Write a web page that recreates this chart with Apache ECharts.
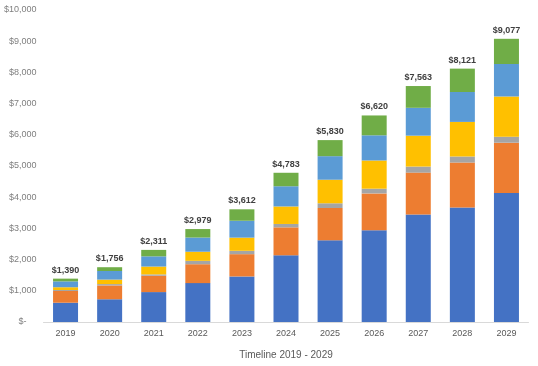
<!DOCTYPE html>
<html>
<head>
<meta charset="utf-8">
<script src="https://cdn.jsdelivr.net/npm/echarts@6/dist/echarts.min.js"></script>
<style>html,body{margin:0;padding:0;background:#fff;}#c{width:538px;height:366px;}</style>
</head>
<body>
<div id="c"></div>
<script>
const categories = ['2019','2020','2021','2022','2023','2024','2025','2026','2027','2028','2029'];
const seriesBlue   = [618, 729, 959, 1246, 1460, 2138, 2619, 2938, 3443, 3669, 4135];
const seriesOrange = [375, 442, 523, 606, 714, 896, 1035, 1184, 1345, 1442, 1611];
const seriesGray   = [33, 44, 44, 108, 108, 108, 151, 151, 194, 194, 193];
const seriesYellow = [88, 144, 251, 292, 422, 561, 755, 904, 990, 1108, 1289];
const seriesLtBlue = [188, 276, 327, 455, 541, 648, 755, 807, 893, 958, 1042];
const seriesGreen  = [88, 121, 207, 272, 367, 432, 515, 636, 698, 750, 807];
const totals = [1390, 1756, 2311, 2979, 3612, 4783, 5830, 6620, 7563, 8121, 9077];
const yTicks = [0, 1000, 2000, 3000, 4000, 5000, 6000, 7000, 8000, 9000, 10000];

const fmt = v => '$' + v.toString().replace(/\B(?=(\d{3})+(?!\d))/g, ',');
const font = 'Liberation Sans';
const colors = ['#4472C4','#ED7D31','#A5A5A5','#FFC000','#5B9BD5','#70AD47'];
const lists = [seriesBlue, seriesOrange, seriesGray, seriesYellow, seriesLtBlue, seriesGreen];

const series = lists.map((d, i) => ({
  type: 'bar', stack: 'total', data: d, barWidth: 25,
  itemStyle: { color: colors[i] },
  label: i === lists.length - 1 ? {
    show: true, position: 'top', distance: 4,
    formatter: p => fmt(totals[p.dataIndex]),
    color: '#404040', fontFamily: font, fontSize: 9, fontWeight: 'bold'
  } : { show: false }
}));

const chart = echarts.init(document.getElementById('c'));
chart.setOption({
  animation: false,
  backgroundColor: '#fff',
  grid: { left: 43.5, right: 9.5, top: 10, bottom: 44, containLabel: false },
  xAxis: {
    type: 'category', data: categories,
    name: 'Timeline 2019 - 2029', nameLocation: 'middle', nameGap: 28,
    nameTextStyle: { color: '#595959', fontFamily: font, fontSize: 10 },
    axisLine: { lineStyle: { color: '#d9d9d9' } },
    axisTick: { show: false },
    axisLabel: { color: '#595959', fontFamily: font, fontSize: 9, margin: 7 }
  },
  yAxis: {
    type: 'value', min: yTicks[0], max: yTicks[yTicks.length - 1], interval: 1000,
    axisLine: { show: false }, axisTick: { show: false },
    splitLine: { show: false },
    axisLabel: {
      color: '#7f7f7f', fontFamily: font, fontSize: 9, margin: 7,
      formatter: v => v === 0 ? '$-    ' : fmt(v)
    }
  },
  series: series
});
</script>
</body>
</html>
